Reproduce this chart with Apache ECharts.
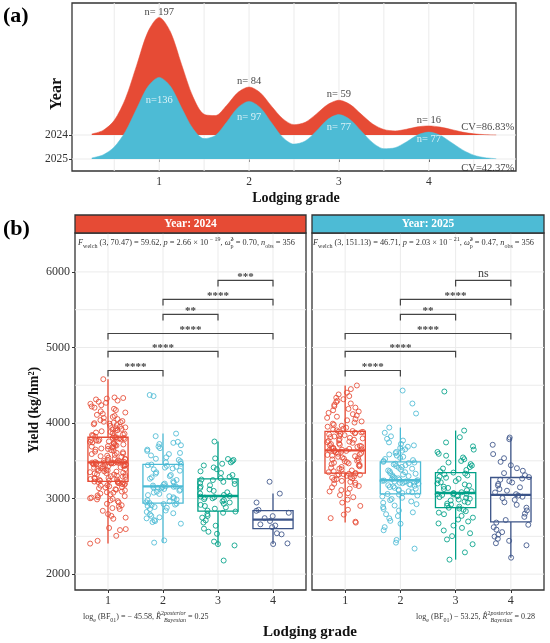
<!DOCTYPE html>
<html><head><meta charset="utf-8">
<script src="https://cdn.jsdelivr.net/npm/echarts@6/dist/echarts.min.js"></script>
<style>html,body{margin:0;padding:0;background:#fff}#c{width:550px;height:643px}</style>
</head><body><div id="c"></div>
<script>
const FONT = '"Liberation Serif","Times New Roman",serif';
// ---------- Panel (a): ridgeline densities ----------
const densX = [0.25,0.375,0.5,0.625,0.75,0.875,1,1.125,1.25,1.375,1.5,1.625,1.75,1.875,2,2.125,2.25,2.375,2.5,2.625,2.75,2.875,3,3.125,3.25,3.375,3.5,3.625,3.75,3.875,4,4.125,4.25,4.375,4.5,4.625,4.75];
const dens2024 = [0.045,0.19,0.61,1.52,2.91,4.30,4.90,4.30,2.93,1.60,0.86,0.81,1.23,1.77,2.00,1.76,1.20,0.68,0.43,0.53,0.88,1.27,1.45,1.27,0.86,0.46,0.23,0.17,0.24,0.34,0.38,0.33,0.23,0.12,0.05,0.015,0.004];
const dens2025 = [0.045,0.17,0.50,1.15,2.10,3.02,3.40,3.03,2.13,1.27,0.85,0.98,1.53,2.14,2.40,2.14,1.51,0.90,0.62,0.75,1.17,1.65,1.85,1.64,1.16,0.68,0.43,0.47,0.71,1.00,1.12,0.99,0.69,0.38,0.16,0.055,0.015];
const ridgeYears = ['2025','2024'];           // ridge baselines at y = 0, 1
const grades = [1,2,3,4];
const nLab2024 = ['n= 197','n= 84','n= 59','n= 16'];
const nLab2025 = ['n=136','n= 97','n= 77','n= 77'];
const cvLab = ['CV=42.37%','CV=86.83%'];
const gridA_x = [0.5,1,1.5,2,2.5,3,3.5,4,4.5];
// ---------- Panel (b): yields ----------
const yieldGrid = [2000,2500,3000,3500,4000,4500,5000,5500,6000];
const yieldLabels = [2000,3000,4000,5000,6000];
const y24g1 = [2404,2441,2507,2583,2596,2611,2733,2748,2771,2795,2838,2862,2874,2893,2912,2931,2948,2966,2977,2989,2996,3004,3013,3018,3032,3041,3057,3066,3078,3084,3093,3109,3117,3124,3138,3146,3152,3163,3171,3176,3184,3192,3197,3203,3209,3214,3218,3221,3225,
 3229,3236,3238,3247,3252,3259,3263,3271,3274,3286,3291,3296,3302,3311,3318,3322,3331,3337,3344,3349,3356,3361,3368,3372,3379,3388,3393,3398,3404,3409,3416,3421,3427,3432,3436,3441,3445,3449,3453,3457,3461,3464,3467,3469,3471,3473,3474,3476,3477,
 3479,3483,3488,3492,3497,3503,3511,3519,3526,3534,3541,3552,3561,3568,3577,3589,3596,3604,3613,3621,3632,3641,3648,3657,3663,3672,3679,3688,3694,3702,3709,3716,3722,3731,3738,3744,3751,3757,3763,3769,3774,3779,3784,3788,3793,3797,3801,3805,3808,
 3812,3819,3826,3834,3841,3849,3857,3866,3874,3882,3891,3898,3906,3915,3923,3931,3942,3951,3962,3974,3983,3991,3998,4004,4011,4017,4026,4038,4052,4067,4081,4094,4108,4122,4139,4155,4171,4188,4203,4219,4236,4254,4268,4281,4297,4312,4323,4331,4338,4580];
const y24g2 = [2417,2446,2668,2689,2702,2714,2738,2752,2771,2790,2806,2823,2842,2861,2878,2889,2901,2912,2920,2928,2934,
 2941,2950,2962,2978,2989,3003,3017,3031,3046,3062,3079,3091,3104,3116,3127,3136,3143,3149,3153,3156,3159,
 3163,3172,3186,3198,3212,3228,3246,3263,3281,3297,3312,3330,3348,3369,3386,3398,3410,3421,3433,3442,3450,
 3461,3478,3492,3511,3527,3546,3571,3589,3604,3631,3648,3667,3689,3706,3722,3738,3751,3826,3860,4356,4371];
const y24g3 = [2180,2380,2397,2431,2534,2561,2602,2641,2683,2712,2748,2771,2795,2812,2828,
 2841,2866,2884,2902,2917,2931,2948,2963,2979,2992,3004,3013,3019,3026,
 3034,3048,3067,3083,3102,3121,3139,3158,3176,3193,3207,3221,3234,3245,3252,
 3268,3287,3312,3338,3361,3389,3412,3438,3461,3479,3496,3511,3524,3532,3755];
const y24g4 = [2398,2407,2527,2541,2622,2644,2659,2703,2741,2768,2812,2838,2851,2948,3066,3223];
const y25g1 = [2682,2694,2741,2788,2852,2903,2947,2986,3018,3046,3071,3094,3112,3131,3149,3166,3181,3196,3209,3221,3234,3246,3258,3267,3276,3284,3293,3301,3308,3314,3319,3324,3328,3331,
 3338,3349,3361,3372,3386,3397,3409,3418,3427,3438,3447,3456,3466,3474,3483,3492,3501,3509,3518,3527,3536,3544,3553,3561,3569,3578,3586,3594,3603,3611,3619,3626,3631,3636,
 3641,3647,3652,3658,3664,3671,3677,3684,3691,3698,3706,3713,3721,3729,3738,3746,3754,3763,3771,3779,3788,3796,3804,3813,3822,3831,3839,3848,3856,3864,3871,3877,3883,3887,
 3894,3903,3914,3926,3938,3951,3963,3977,3991,4006,4021,4036,4052,4068,4084,4101,4117,4134,4152,4169,4187,4204,4222,4241,4259,4278,4296,4315,4334,4356,4378,4402,4449,4497];
const y25g2 = [2338,2417,2452,2581,2622,2667,2705,2738,2769,2793,2818,2842,2863,2887,2908,2926,2944,2962,2979,2995,3011,3027,3041,3053,
 3061,3072,3084,3097,3108,3119,3131,3142,3152,3161,3169,3177,3184,3191,3198,3204,3209,3214,3219,3224,3228,3232,3235,3238,
 3243,3251,3259,3268,3278,3289,3297,3308,3318,3329,3338,3349,3361,3372,3384,3396,3408,3419,3431,3442,3452,3461,3470,3477,
 3486,3497,3509,3524,3538,3553,3569,3584,3601,3617,3634,3652,3669,3686,3704,3723,3744,3768,3791,3824,3871,3940,4126,4258,4430];
const y25g3 = [2192,2288,2396,2459,2503,2541,2578,2612,2643,2671,2697,2722,2748,2771,2793,2814,2833,2852,2868,
 2879,2893,2906,2921,2934,2948,2961,2975,2987,2998,3009,3020,3030,3039,3047,3054,3059,3063,3066,
 3073,3084,3097,3111,3126,3141,3157,3172,3187,3201,3216,3231,3246,3261,3276,3291,3306,3319,3331,
 3344,3361,3379,3398,3417,3437,3456,3477,3498,3521,3544,3568,3592,3617,3648,3691,3743,3812,3900,4417];
const y25g4 = [2218,2382,2409,2441,2468,2497,2523,2556,2589,2621,2653,2682,
 2716,2758,2801,2843,2879,2917,2951,2983,3006,3024,3040,
 3058,3081,3104,3126,3149,3172,3194,3213,3231,3249,3265,
 3284,3309,3337,3368,3402,3441,3486,3534,3589,3712,3786,3808];
const bracketPairs = [[1,2],[1,3],[1,4],[2,3],[2,4],[3,4]];
const bracketY = [4695,4947,5185,5437,5636,5887];
const sig2024 = ['****','****','****','**','****','***'];
const sig2025 = ['****','****','****','**','****','ns'];
const colors = ['#E64B35','#4DBBD5','#00A087','#3C5488'];

// ---------- helpers ----------
const mctx = document.createElement('canvas').getContext('2d');
function fstr(size, it, bold){ return (it?'italic ':'') + (bold?'bold ':'') + size + 'px ' + FONT; }
function tw(t, size, it, bold){ mctx.font = fstr(size, it, bold); return mctx.measureText(t).width; }
function txt(x, y, t, size, opts){
  opts = opts || {};
  const f = fstr(size, opts.it, opts.bold);
  const al = opts.align || 'left', va = opts.va || 'middle', col = opts.color || '#222';
  return {type:'text', x:x, y:y, rotation: opts.rot || 0, silent:true, z:100,
    style:{text:t, font:f, fill:col, textFill:col, align:al, textAlign:al, verticalAlign:va, textVerticalAlign:va}};
}
function compose(x0, yMid, parts, align, base, small){
  const widths = parts.map(p => p.stack ? Math.max(tw(p.stack[0], small, p.it), tw(p.stack[1], small, p.it))
                                        : tw(p.t, (p.sub||p.sup)?small:base, p.it));
  const total = widths.reduce((a,b)=>a+b,0);
  let x = align==='center' ? x0-total/2 : (align==='right' ? x0-total : x0);
  const els = [];
  parts.forEach((p,i)=>{
    if (p.stack){
      els.push(txt(x, yMid-0.42*base, p.stack[0], small, {it:p.it, color:'#333'}));
      els.push(txt(x, yMid+0.38*base, p.stack[1], small, {it:p.it, color:'#333'}));
    } else if (p.sub){
      els.push(txt(x, yMid+0.38*base, p.t, small, {it:p.it, color:'#333'}));
    } else if (p.sup){
      els.push(txt(x, yMid-0.42*base, p.t, small, {it:p.it, color:'#333'}));
    } else {
      els.push(txt(x, yMid, p.t, base, {it:p.it, color:'#333'}));
    }
    x += widths[i];
  });
  return els;
}
function quant(s, p){ const h=(s.length-1)*p, lo=Math.floor(h), hi=Math.min(lo+1,s.length-1); return s[lo]+(h-lo)*(s[hi]-s[lo]); }
function boxStats(g, arr){
  const s = arr.slice().sort((a,b)=>a-b);
  const q1=quant(s,0.25), md=quant(s,0.5), q3=quant(s,0.75), iqr=q3-q1;
  const lo = s.find(v=>v>=q1-1.5*iqr), hi = s.slice().reverse().find(v=>v<=q3+1.5*iqr);
  return [g, lo, q1, md, q3, hi];
}
// deterministic horizontal jitter (position only, like geom_jitter)
function jit(i, g){ const s = Math.sin((i+1)*12.9898 + g*78.233) * 43758.5453; return (s - Math.floor(s) - 0.5) * 0.66; }
function gridRender(params, api){
  const cs = params.coordSys, dir = api.value(2);
  if (dir === 0){
    const x = api.coord([api.value(0), api.value(1)])[0];
    return {type:'line', silent:true, shape:{x1:x,y1:cs.y,x2:x,y2:cs.y+cs.height}, style:{stroke:'#ebebeb', lineWidth:1}};
  }
  const y = api.coord([api.value(0), api.value(1)])[1];
  return {type:'line', silent:true, shape:{x1:cs.x,y1:y,x2:cs.x+cs.width,y2:y}, style:{stroke:'#ebebeb', lineWidth:1}};
}
function boxRender(params, api){
  const g=api.value(0), lo=api.value(1), q1=api.value(2), md=api.value(3), q3=api.value(4), hi=api.value(5);
  const c = colors[g-1], hw = 0.365;
  const xL = api.coord([g-hw, q1])[0], xR = api.coord([g+hw, q1])[0], xC = api.coord([g, q1])[0];
  const yLo = api.coord([g, lo])[1], yQ1 = api.coord([g, q1])[1], yMd = api.coord([g, md])[1], yQ3 = api.coord([g, q3])[1], yHi = api.coord([g, hi])[1];
  return {type:'group', children:[
    {type:'line', shape:{x1:xC,y1:yQ1,x2:xC,y2:yLo}, style:{stroke:c, lineWidth:1.3}},
    {type:'line', shape:{x1:xC,y1:yQ3,x2:xC,y2:yHi}, style:{stroke:c, lineWidth:1.3}},
    {type:'rect', shape:{x:xL,y:yQ3,width:xR-xL,height:yQ1-yQ3}, style:{fill:'none', stroke:c, lineWidth:1.3}},
    {type:'line', shape:{x1:xL,y1:yMd,x2:xR,y2:yMd}, style:{stroke:c, lineWidth:2.4}}
  ]};
}
function bracketRender(sigs){
  return function(params, api){
    const x1=api.value(0), x2=api.value(1), y=api.value(2), tip=80;
    const p1 = api.coord([x1, y]), p2 = api.coord([x2, y]), t = api.coord([x1, y-tip]);
    const lab = sigs[params.dataIndex];
    const isNs = lab === 'ns';
    return {type:'group', children:[
      {type:'polyline', shape:{points:[[p1[0],t[1]],[p1[0],p1[1]],[p2[0],p2[1]],[p2[0],t[1]]]}, style:{fill:'none', stroke:'#444', lineWidth:1.2}},
      {type:'text', x:(p1[0]+p2[0])/2, y:p1[1]-(isNs?0.5:-2.5), style:{text:lab, font:fstr(isNs?12:11, false, !isNs), fill:'#444', textFill:'#444', align:'center', textAlign:'center', verticalAlign:'bottom', textVerticalAlign:'bottom'}}
    ]};
  };
}
function pointSeries(arr, g, axis){
  return {type:'scatter', xAxisIndex:axis, yAxisIndex:axis, silent:true, symbol:'circle', symbolSize:5, z:3,
    itemStyle:{color:'rgba(255,255,255,0)', borderColor:colors[g-1], borderWidth:1, opacity:0.85},
    data: arr.map((v,i)=>[g + jit(i, g + axis*10), v])};
}

// ---------- option ----------
const idxOf = g => densX.indexOf(g);
const series = [];
// panel (a) gridlines
series.push({type:'custom', xAxisIndex:0, yAxisIndex:0, silent:true, z:1, renderItem:gridRender,
  data: gridA_x.map(v=>[v,0,0]).concat([[1,0,1],[1,1,1]])});
// 2024 ridge: stacked on its baseline (value in dim 0 so the stack sums y)
series.push({type:'line', xAxisIndex:0, yAxisIndex:0, stack:'r24', smooth:0.3, symbol:'none', silent:true, z:2,
  encode:{x:1, y:0}, lineStyle:{opacity:0}, data: densX.map(x=>[1, x])});
series.push({type:'line', xAxisIndex:0, yAxisIndex:0, stack:'r24', smooth:0.3, symbol:'none', silent:true, z:2,
  encode:{x:1, y:0}, lineStyle:{color:'#E64B35', width:0.5}, areaStyle:{color:'#E64B35', opacity:1},
  data: densX.map((x,i)=>[dens2024[i], x])});
// 2025 ridge
series.push({type:'line', xAxisIndex:0, yAxisIndex:0, smooth:0.3, symbol:'none', silent:true, z:2,
  lineStyle:{color:'#4DBBD5', width:0.5}, areaStyle:{color:'#4DBBD5', opacity:1},
  data: densX.map((x,i)=>[x, dens2025[i]])});
// n labels
series.push({type:'scatter', xAxisIndex:0, yAxisIndex:0, symbolSize:0, silent:true, z:5,
  label:{show:true, position:'top', distance:0, color:'#111', fontSize:10.5, fontFamily:FONT, formatter:p=>nLab2024[p.dataIndex]},
  data: grades.map(g=>[g, 1 + dens2024[idxOf(g)]])});
series.push({type:'scatter', xAxisIndex:0, yAxisIndex:0, symbolSize:0, silent:true, z:5,
  label:{show:true, position:'inside', color:'#fff', fontSize:10.5, fontFamily:FONT, formatter:p=>nLab2025[p.dataIndex]},
  data: grades.map(g=>[g, 0.72 * dens2025[idxOf(g)]])});
series.push({type:'scatter', xAxisIndex:0, yAxisIndex:0, symbolSize:0, silent:true, z:5,
  label:{show:true, position:[0,0], align:'right', verticalAlign:'middle', color:'#111', fontSize:10.5, fontFamily:FONT,
    formatter:p=>cvLab[p.dataIndex]},
  data: [[4.95, -0.37],[4.95, 1.33]]});

// panel (b)
const facets = [
  {axis:1, groups:[y24g1,y24g2,y24g3,y24g4], sig:sig2024},
  {axis:2, groups:[y25g1,y25g2,y25g3,y25g4], sig:sig2025}
];
facets.forEach(f=>{
  series.push({type:'custom', xAxisIndex:f.axis, yAxisIndex:f.axis, silent:true, z:1, renderItem:gridRender,
    data: grades.map(g=>[g,2000,0]).concat(yieldGrid.map(v=>[1,v,1]))});
  f.groups.forEach((arr,gi)=>series.push(pointSeries(arr, gi+1, f.axis)));
  series.push({type:'custom', xAxisIndex:f.axis, yAxisIndex:f.axis, silent:true, z:4, renderItem:boxRender,
    encode:{x:0, y:[1,2,3,4,5]}, data: f.groups.map((arr,gi)=>boxStats(gi+1, arr))});
  series.push({type:'custom', xAxisIndex:f.axis, yAxisIndex:f.axis, silent:true, z:4, renderItem:bracketRender(f.sig),
    encode:{x:[0,1], y:2}, data: bracketPairs.map((p,i)=>[p[0], p[1], bracketY[i]])});
});

const tickLab = {color:'#333', fontSize:12, fontFamily:FONT};
function xAx(idx, min, max, size){
  return {type:'value', gridIndex:idx, min:min, max:max, axisLine:{show:false}, splitLine:{show:false},
    axisTick:{show:true, length:3, customValues:grades, lineStyle:{color:'#333'}},
    axisLabel:Object.assign({customValues:grades, margin:5, formatter:v=>grades.includes(v)?String(v):''}, tickLab, {fontSize:size})};
}
const option = {
  animation:false,
  backgroundColor:'#fff',
  grid:[
    {left:72, top:3, width:444, height:168, show:true, borderColor:'#333', borderWidth:1.3, backgroundColor:'transparent'},
    {left:75, top:233, width:231, height:357, show:true, borderColor:'#333', borderWidth:1.3, backgroundColor:'transparent'},
    {left:312, top:233, width:232, height:357, show:true, borderColor:'#333', borderWidth:1.3, backgroundColor:'transparent'}
  ],
  xAxis:[ xAx(0, 0.03, 4.97, 11.5), xAx(1, 0.4, 4.6, 12), xAx(2, 0.4, 4.6, 12) ],
  yAxis:[
    {type:'value', gridIndex:0, min:-0.5, max:6.5, axisLine:{show:false}, splitLine:{show:false},
      axisTick:{show:true, length:3, customValues:[0,1], lineStyle:{color:'#333'}},
      axisLabel:Object.assign({customValues:[0,1], margin:4, formatter:v=>ridgeYears[v]||''}, tickLab, {fontSize:11.5})},
    {type:'value', gridIndex:1, min:1790, max:6515, axisLine:{show:false}, splitLine:{show:false},
      axisTick:{show:true, length:3, customValues:yieldLabels, lineStyle:{color:'#333'}},
      axisLabel:Object.assign({customValues:yieldLabels, margin:5, formatter:v=>yieldLabels.includes(v)?String(v):''}, tickLab)},
    {type:'value', gridIndex:2, min:1790, max:6515, axisLine:{show:false}, splitLine:{show:false},
      axisTick:{show:false}, axisLabel:{show:false}}
  ],
  series: series
};

// ---------- static texts ----------
const g = [];
g.push(txt(3, 16, '(a)', 22, {bold:true, color:'#000'}));
g.push(txt(3, 229, '(b)', 22, {bold:true, color:'#000'}));
g.push(txt(57, 94, 'Year', 16, {bold:true, color:'#111', align:'center', rot:Math.PI/2}));
g.push(txt(296, 198, 'Lodging grade', 14, {bold:true, color:'#111', align:'center'}));
g.push(txt(34, 410, 'Yield (kg/hm²)', 14, {bold:true, color:'#111', align:'center', rot:Math.PI/2}));
g.push(txt(310, 632, 'Lodging grade', 15, {bold:true, color:'#111', align:'center'}));
// strips
[[75,231,'#E64B35','Year: 2024'],[312,232,'#4DBBD5','Year: 2025']].forEach(s=>{
  g.push({type:'rect', silent:true, z:90, shape:{x:s[0], y:215, width:s[1], height:18}, style:{fill:s[2], stroke:'#333', lineWidth:1.3}});
  g.push(txt(s[0]+s[1]/2, 224.5, s[3], 11.5, {bold:true, color:'#fff', align:'center'}));
});
// subtitles
const sub24 = [{t:'F',it:1},{t:'welch',sub:1},{t:' (3, 70.47) = 59.62, '},{t:'p',it:1},{t:' = 2.66 × 10'},{t:' − 19',sup:1},{t:', '},{t:'ω̂',it:1},{stack:['2','p']},{t:' = 0.70, '},{t:'n',it:1},{t:'obs',sub:1},{t:' = 356'}];
const sub25 = [{t:'F',it:1},{t:'welch',sub:1},{t:' (3, 151.13) = 46.71, '},{t:'p',it:1},{t:' = 2.03 × 10'},{t:' − 21',sup:1},{t:', '},{t:'ω̂',it:1},{stack:['2','p']},{t:' = 0.47, '},{t:'n',it:1},{t:'obs',sub:1},{t:' = 356'}];
compose(78, 243, sub24, 'left', 8.3, 6).forEach(e=>g.push(e));
compose(313, 243, sub25, 'left', 8.3, 6).forEach(e=>g.push(e));
// captions
const cap24 = [{t:'log'},{t:'e',sub:1},{t:' (BF'},{t:'01',sub:1},{t:') = − 45.58, '},{t:'R̂',it:1},{t:'2',sup:1},{stack:['posterior','Bayesian'],it:1},{t:' = 0.25'}];
const cap25 = [{t:'log'},{t:'e',sub:1},{t:' (BF'},{t:'01',sub:1},{t:') − 53.25, '},{t:'R̂',it:1},{t:'2',sup:1},{stack:['posterior','Bayesian'],it:1},{t:' = 0.28'}];
compose(83, 617, cap24, 'left', 8, 6).forEach(e=>g.push(e));
compose(535, 617, cap25, 'right', 8, 6).forEach(e=>g.push(e));
option.graphic = {elements: g};

const chart = echarts.init(document.getElementById('c'));
chart.setOption(option);
</script></body></html>
